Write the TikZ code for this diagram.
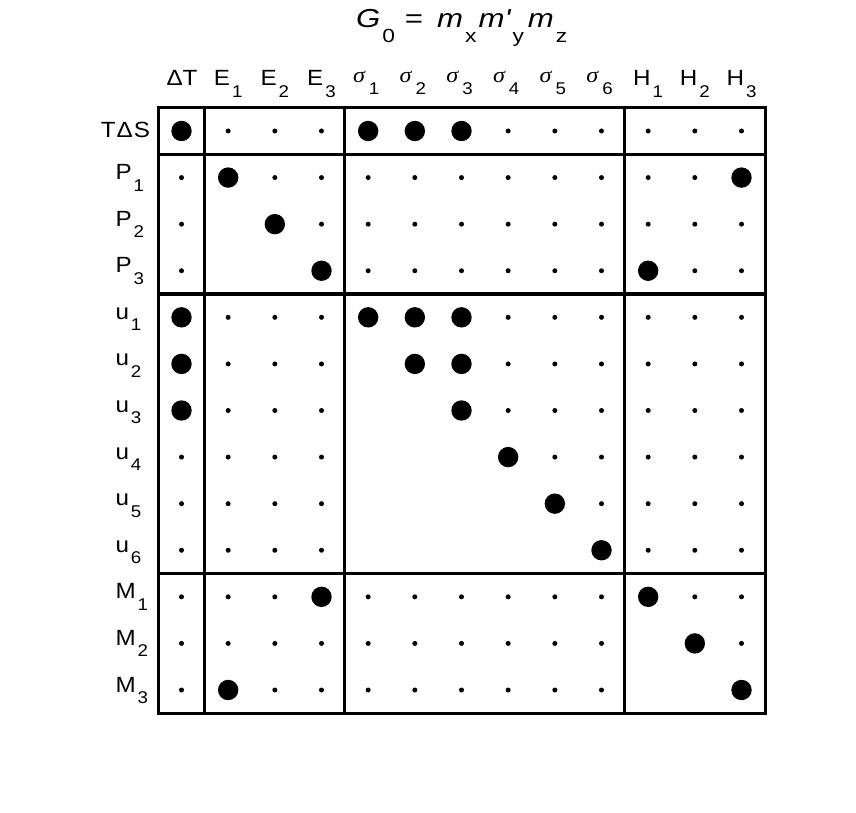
\documentclass[tikz,border=0pt]{standalone}
\usepackage{xcolor}
\usepackage{fontspec}
\setmainfont{Liberation Sans}[FakeStretch=1.10]
\newfontfamily\sigmafont{Liberation Serif}[FakeStretch=1.10]
\newfontfamily\titlefont{Liberation Sans}[FakeStretch=1.20]
\usepackage{tikz}
\newcommand{\lowsub}[1]{\hspace{2pt}\raisebox{-11.5pt}{\fontsize{17}{17}\selectfont #1}}
\newcommand{\titlesub}[1]{\raisebox{-15pt}{\fontsize{19}{19}\selectfont\upshape #1}}
\newcommand{\sig}{{\sigmafont\itshape σ}\hspace{2pt}}

\begin{document}
\begin{tikzpicture}[x=1pt,y=1pt]
\definecolor{fillColor}{RGB}{255,255,255}
\path[use as bounding box,fill=fillColor] (0,0) rectangle (856.00,812.00);
\begin{scope}
\path[clip] (  0.00,  0.00) rectangle (856.00,812.00);
\definecolor{drawColor}{RGB}{0,0,0}
\definecolor{fillColor}{RGB}{0,0,0}

\path[fill=fillColor] (181.50,681.00) circle (10.20);
\path[fill=fillColor] (228.17,681.00) circle ( 2.50);
\path[fill=fillColor] (274.83,681.00) circle ( 2.50);
\path[fill=fillColor] (321.50,681.00) circle ( 2.50);
\path[fill=fillColor] (368.17,681.00) circle (10.20);
\path[fill=fillColor] (414.83,681.00) circle (10.20);
\path[fill=fillColor] (461.50,681.00) circle (10.20);
\path[fill=fillColor] (508.17,681.00) circle ( 2.50);
\path[fill=fillColor] (554.83,681.00) circle ( 2.50);
\path[fill=fillColor] (601.50,681.00) circle ( 2.50);
\path[fill=fillColor] (648.17,681.00) circle ( 2.50);
\path[fill=fillColor] (694.83,681.00) circle ( 2.50);
\path[fill=fillColor] (741.50,681.00) circle ( 2.50);

\path[fill=fillColor] (181.50,634.42) circle ( 2.50);
\path[fill=fillColor] (228.17,634.42) circle (10.20);
\path[fill=fillColor] (274.83,634.42) circle ( 2.50);
\path[fill=fillColor] (321.50,634.42) circle ( 2.50);
\path[fill=fillColor] (368.17,634.42) circle ( 2.50);
\path[fill=fillColor] (414.83,634.42) circle ( 2.50);
\path[fill=fillColor] (461.50,634.42) circle ( 2.50);
\path[fill=fillColor] (508.17,634.42) circle ( 2.50);
\path[fill=fillColor] (554.83,634.42) circle ( 2.50);
\path[fill=fillColor] (601.50,634.42) circle ( 2.50);
\path[fill=fillColor] (648.17,634.42) circle ( 2.50);
\path[fill=fillColor] (694.83,634.42) circle ( 2.50);
\path[fill=fillColor] (741.50,634.42) circle (10.20);

\path[fill=fillColor] (181.50,587.83) circle ( 2.50);
\path[fill=fillColor] (274.83,587.83) circle (10.20);
\path[fill=fillColor] (321.50,587.83) circle ( 2.50);
\path[fill=fillColor] (368.17,587.83) circle ( 2.50);
\path[fill=fillColor] (414.83,587.83) circle ( 2.50);
\path[fill=fillColor] (461.50,587.83) circle ( 2.50);
\path[fill=fillColor] (508.17,587.83) circle ( 2.50);
\path[fill=fillColor] (554.83,587.83) circle ( 2.50);
\path[fill=fillColor] (601.50,587.83) circle ( 2.50);
\path[fill=fillColor] (648.17,587.83) circle ( 2.50);
\path[fill=fillColor] (694.83,587.83) circle ( 2.50);
\path[fill=fillColor] (741.50,587.83) circle ( 2.50);

\path[fill=fillColor] (181.50,541.25) circle ( 2.50);
\path[fill=fillColor] (321.50,541.25) circle (10.20);
\path[fill=fillColor] (368.17,541.25) circle ( 2.50);
\path[fill=fillColor] (414.83,541.25) circle ( 2.50);
\path[fill=fillColor] (461.50,541.25) circle ( 2.50);
\path[fill=fillColor] (508.17,541.25) circle ( 2.50);
\path[fill=fillColor] (554.83,541.25) circle ( 2.50);
\path[fill=fillColor] (601.50,541.25) circle ( 2.50);
\path[fill=fillColor] (648.17,541.25) circle (10.20);
\path[fill=fillColor] (694.83,541.25) circle ( 2.50);
\path[fill=fillColor] (741.50,541.25) circle ( 2.50);

\path[fill=fillColor] (181.50,494.67) circle (10.20);
\path[fill=fillColor] (228.17,494.67) circle ( 2.50);
\path[fill=fillColor] (274.83,494.67) circle ( 2.50);
\path[fill=fillColor] (321.50,494.67) circle ( 2.50);
\path[fill=fillColor] (368.17,494.67) circle (10.20);
\path[fill=fillColor] (414.83,494.67) circle (10.20);
\path[fill=fillColor] (461.50,494.67) circle (10.20);
\path[fill=fillColor] (508.17,494.67) circle ( 2.50);
\path[fill=fillColor] (554.83,494.67) circle ( 2.50);
\path[fill=fillColor] (601.50,494.67) circle ( 2.50);
\path[fill=fillColor] (648.17,494.67) circle ( 2.50);
\path[fill=fillColor] (694.83,494.67) circle ( 2.50);
\path[fill=fillColor] (741.50,494.67) circle ( 2.50);

\path[fill=fillColor] (181.50,448.08) circle (10.20);
\path[fill=fillColor] (228.17,448.08) circle ( 2.50);
\path[fill=fillColor] (274.83,448.08) circle ( 2.50);
\path[fill=fillColor] (321.50,448.08) circle ( 2.50);
\path[fill=fillColor] (414.83,448.08) circle (10.20);
\path[fill=fillColor] (461.50,448.08) circle (10.20);
\path[fill=fillColor] (508.17,448.08) circle ( 2.50);
\path[fill=fillColor] (554.83,448.08) circle ( 2.50);
\path[fill=fillColor] (601.50,448.08) circle ( 2.50);
\path[fill=fillColor] (648.17,448.08) circle ( 2.50);
\path[fill=fillColor] (694.83,448.08) circle ( 2.50);
\path[fill=fillColor] (741.50,448.08) circle ( 2.50);

\path[fill=fillColor] (181.50,401.50) circle (10.20);
\path[fill=fillColor] (228.17,401.50) circle ( 2.50);
\path[fill=fillColor] (274.83,401.50) circle ( 2.50);
\path[fill=fillColor] (321.50,401.50) circle ( 2.50);
\path[fill=fillColor] (461.50,401.50) circle (10.20);
\path[fill=fillColor] (508.17,401.50) circle ( 2.50);
\path[fill=fillColor] (554.83,401.50) circle ( 2.50);
\path[fill=fillColor] (601.50,401.50) circle ( 2.50);
\path[fill=fillColor] (648.17,401.50) circle ( 2.50);
\path[fill=fillColor] (694.83,401.50) circle ( 2.50);
\path[fill=fillColor] (741.50,401.50) circle ( 2.50);

\path[fill=fillColor] (181.50,354.92) circle ( 2.50);
\path[fill=fillColor] (228.17,354.92) circle ( 2.50);
\path[fill=fillColor] (274.83,354.92) circle ( 2.50);
\path[fill=fillColor] (321.50,354.92) circle ( 2.50);
\path[fill=fillColor] (508.17,354.92) circle (10.20);
\path[fill=fillColor] (554.83,354.92) circle ( 2.50);
\path[fill=fillColor] (601.50,354.92) circle ( 2.50);
\path[fill=fillColor] (648.17,354.92) circle ( 2.50);
\path[fill=fillColor] (694.83,354.92) circle ( 2.50);
\path[fill=fillColor] (741.50,354.92) circle ( 2.50);

\path[fill=fillColor] (181.50,308.33) circle ( 2.50);
\path[fill=fillColor] (228.17,308.33) circle ( 2.50);
\path[fill=fillColor] (274.83,308.33) circle ( 2.50);
\path[fill=fillColor] (321.50,308.33) circle ( 2.50);
\path[fill=fillColor] (554.83,308.33) circle (10.20);
\path[fill=fillColor] (601.50,308.33) circle ( 2.50);
\path[fill=fillColor] (648.17,308.33) circle ( 2.50);
\path[fill=fillColor] (694.83,308.33) circle ( 2.50);
\path[fill=fillColor] (741.50,308.33) circle ( 2.50);

\path[fill=fillColor] (181.50,261.75) circle ( 2.50);
\path[fill=fillColor] (228.17,261.75) circle ( 2.50);
\path[fill=fillColor] (274.83,261.75) circle ( 2.50);
\path[fill=fillColor] (321.50,261.75) circle ( 2.50);
\path[fill=fillColor] (601.50,261.75) circle (10.20);
\path[fill=fillColor] (648.17,261.75) circle ( 2.50);
\path[fill=fillColor] (694.83,261.75) circle ( 2.50);
\path[fill=fillColor] (741.50,261.75) circle ( 2.50);

\path[fill=fillColor] (181.50,215.17) circle ( 2.50);
\path[fill=fillColor] (228.17,215.17) circle ( 2.50);
\path[fill=fillColor] (274.83,215.17) circle ( 2.50);
\path[fill=fillColor] (321.50,215.17) circle (10.20);
\path[fill=fillColor] (368.17,215.17) circle ( 2.50);
\path[fill=fillColor] (414.83,215.17) circle ( 2.50);
\path[fill=fillColor] (461.50,215.17) circle ( 2.50);
\path[fill=fillColor] (508.17,215.17) circle ( 2.50);
\path[fill=fillColor] (554.83,215.17) circle ( 2.50);
\path[fill=fillColor] (601.50,215.17) circle ( 2.50);
\path[fill=fillColor] (648.17,215.17) circle (10.20);
\path[fill=fillColor] (694.83,215.17) circle ( 2.50);
\path[fill=fillColor] (741.50,215.17) circle ( 2.50);

\path[fill=fillColor] (181.50,168.58) circle ( 2.50);
\path[fill=fillColor] (228.17,168.58) circle ( 2.50);
\path[fill=fillColor] (274.83,168.58) circle ( 2.50);
\path[fill=fillColor] (321.50,168.58) circle ( 2.50);
\path[fill=fillColor] (368.17,168.58) circle ( 2.50);
\path[fill=fillColor] (414.83,168.58) circle ( 2.50);
\path[fill=fillColor] (461.50,168.58) circle ( 2.50);
\path[fill=fillColor] (508.17,168.58) circle ( 2.50);
\path[fill=fillColor] (554.83,168.58) circle ( 2.50);
\path[fill=fillColor] (601.50,168.58) circle ( 2.50);
\path[fill=fillColor] (694.83,168.58) circle (10.20);
\path[fill=fillColor] (741.50,168.58) circle ( 2.50);

\path[fill=fillColor] (181.50,122.00) circle ( 2.50);
\path[fill=fillColor] (228.17,122.00) circle (10.20);
\path[fill=fillColor] (274.83,122.00) circle ( 2.50);
\path[fill=fillColor] (321.50,122.00) circle ( 2.50);
\path[fill=fillColor] (368.17,122.00) circle ( 2.50);
\path[fill=fillColor] (414.83,122.00) circle ( 2.50);
\path[fill=fillColor] (461.50,122.00) circle ( 2.50);
\path[fill=fillColor] (508.17,122.00) circle ( 2.50);
\path[fill=fillColor] (554.83,122.00) circle ( 2.50);
\path[fill=fillColor] (601.50,122.00) circle ( 2.50);
\path[fill=fillColor] (741.50,122.00) circle (10.20);
\end{scope}
\begin{scope}
\path[clip] (  0.00,  0.00) rectangle (856.00,812.00);
\definecolor{drawColor}{RGB}{0,0,0}

\path[draw=drawColor,line width= 3.3pt,line join=miter] (158.17, 98.71) rectangle (765.17,704.29);

\path[draw=drawColor,line width= 3.3pt] (204.83, 98.71) -- (204.83,704.29);

\path[draw=drawColor,line width= 3.3pt] (344.83, 98.71) -- (344.83,704.29);

\path[draw=drawColor,line width= 3.3pt] (624.83, 98.71) -- (624.83,704.29);

\path[draw=drawColor,line width= 3.3pt] (158.17,657.71) -- (765.17,657.71);

\path[draw=drawColor,line width= 3.3pt] (158.17,517.96) -- (765.17,517.96);

\path[draw=drawColor,line width= 3.3pt] (158.17,238.46) -- (765.17,238.46);
\end{scope}
\begin{scope}[font=\fontsize{22}{26}\selectfont]
\definecolor{drawColor}{RGB}{0,0,0}

\node[text=drawColor,anchor=base,inner sep=0pt, outer sep=0pt] (colDT) at (182.00,726.00) {ΔT};

\node[text=drawColor,anchor=base,inner sep=0pt, outer sep=0pt] (colE1) at (228.17,726.00) {E\lowsub{1}};

\node[text=drawColor,anchor=base,inner sep=0pt, outer sep=0pt] (colE2) at (274.83,726.00) {E\lowsub{2}};

\node[text=drawColor,anchor=base,inner sep=0pt, outer sep=0pt] (colE3) at (321.50,726.00) {E\lowsub{3}};

\node[text=drawColor,anchor=base,inner sep=0pt, outer sep=0pt] (colS1) at (366.17,729.00) {\sig\lowsub{1}};

\node[text=drawColor,anchor=base,inner sep=0pt, outer sep=0pt] (colS2) at (412.83,729.00) {\sig\lowsub{2}};

\node[text=drawColor,anchor=base,inner sep=0pt, outer sep=0pt] (colS3) at (459.50,729.00) {\sig\lowsub{3}};

\node[text=drawColor,anchor=base,inner sep=0pt, outer sep=0pt] (colS4) at (506.17,729.00) {\sig\lowsub{4}};

\node[text=drawColor,anchor=base,inner sep=0pt, outer sep=0pt] (colS5) at (552.83,729.00) {\sig\lowsub{5}};

\node[text=drawColor,anchor=base,inner sep=0pt, outer sep=0pt] (colS6) at (599.50,729.00) {\sig\lowsub{6}};

\node[text=drawColor,anchor=base,inner sep=0pt, outer sep=0pt] (colH1) at (648.17,726.00) {H\lowsub{1}};

\node[text=drawColor,anchor=base,inner sep=0pt, outer sep=0pt] (colH2) at (694.83,726.00) {H\lowsub{2}};

\node[text=drawColor,anchor=base,inner sep=0pt, outer sep=0pt] (colH3) at (741.50,726.00) {H\lowsub{3}};
\end{scope}
\begin{scope}[font=\fontsize{22}{26}\selectfont]
\definecolor{drawColor}{RGB}{0,0,0}

\node[text=drawColor,anchor=base east,inner sep=0pt, outer sep=0pt] (rowTDS) at (150.00,674.00) {T\hspace{1pt}Δ\hspace{1pt}S};

\node[text=drawColor,anchor=base west,inner sep=0pt, outer sep=0pt] (rowP1) at (115.50,632.40) {P\lowsub{1}};

\node[text=drawColor,anchor=base west,inner sep=0pt, outer sep=0pt] (rowP2) at (115.50,585.80) {P\lowsub{2}};

\node[text=drawColor,anchor=base west,inner sep=0pt, outer sep=0pt] (rowP3) at (115.50,539.30) {P\lowsub{3}};

\node[text=drawColor,anchor=base west,inner sep=0pt, outer sep=0pt] (rowU1) at (115.50,492.70) {u\lowsub{1}};

\node[text=drawColor,anchor=base west,inner sep=0pt, outer sep=0pt] (rowU2) at (115.50,446.10) {u\lowsub{2}};

\node[text=drawColor,anchor=base west,inner sep=0pt, outer sep=0pt] (rowU3) at (115.50,399.50) {u\lowsub{3}};

\node[text=drawColor,anchor=base west,inner sep=0pt, outer sep=0pt] (rowU4) at (115.50,352.90) {u\lowsub{4}};

\node[text=drawColor,anchor=base west,inner sep=0pt, outer sep=0pt] (rowU5) at (115.50,306.30) {u\lowsub{5}};

\node[text=drawColor,anchor=base west,inner sep=0pt, outer sep=0pt] (rowU6) at (115.50,259.80) {u\lowsub{6}};

\node[text=drawColor,anchor=base west,inner sep=0pt, outer sep=0pt] (rowM1) at (115.50,213.20) {M\lowsub{1}};

\node[text=drawColor,anchor=base west,inner sep=0pt, outer sep=0pt] (rowM2) at (115.50,166.60) {M\lowsub{2}};

\node[text=drawColor,anchor=base west,inner sep=0pt, outer sep=0pt] (rowM3) at (115.50,120.00) {M\lowsub{3}};
\end{scope}
\begin{scope}
\definecolor{drawColor}{RGB}{0,0,0}

\node[text=drawColor,anchor=base west,inner sep=0pt, outer sep=0pt, font=\titlefont\fontsize{26}{30}\selectfont\itshape] (title) at (356.00,784.00) {G\hspace{2pt}\titlesub{0}\hspace{10pt}\upshape=\itshape\hspace{14pt}m\hspace{2pt}\titlesub{x}\hspace{2pt}m\textquotesingle\hspace{3pt}\titlesub{y}\hspace{4pt}m\hspace{2pt}\titlesub{z}};
\end{scope}
\end{tikzpicture}
\end{document}
